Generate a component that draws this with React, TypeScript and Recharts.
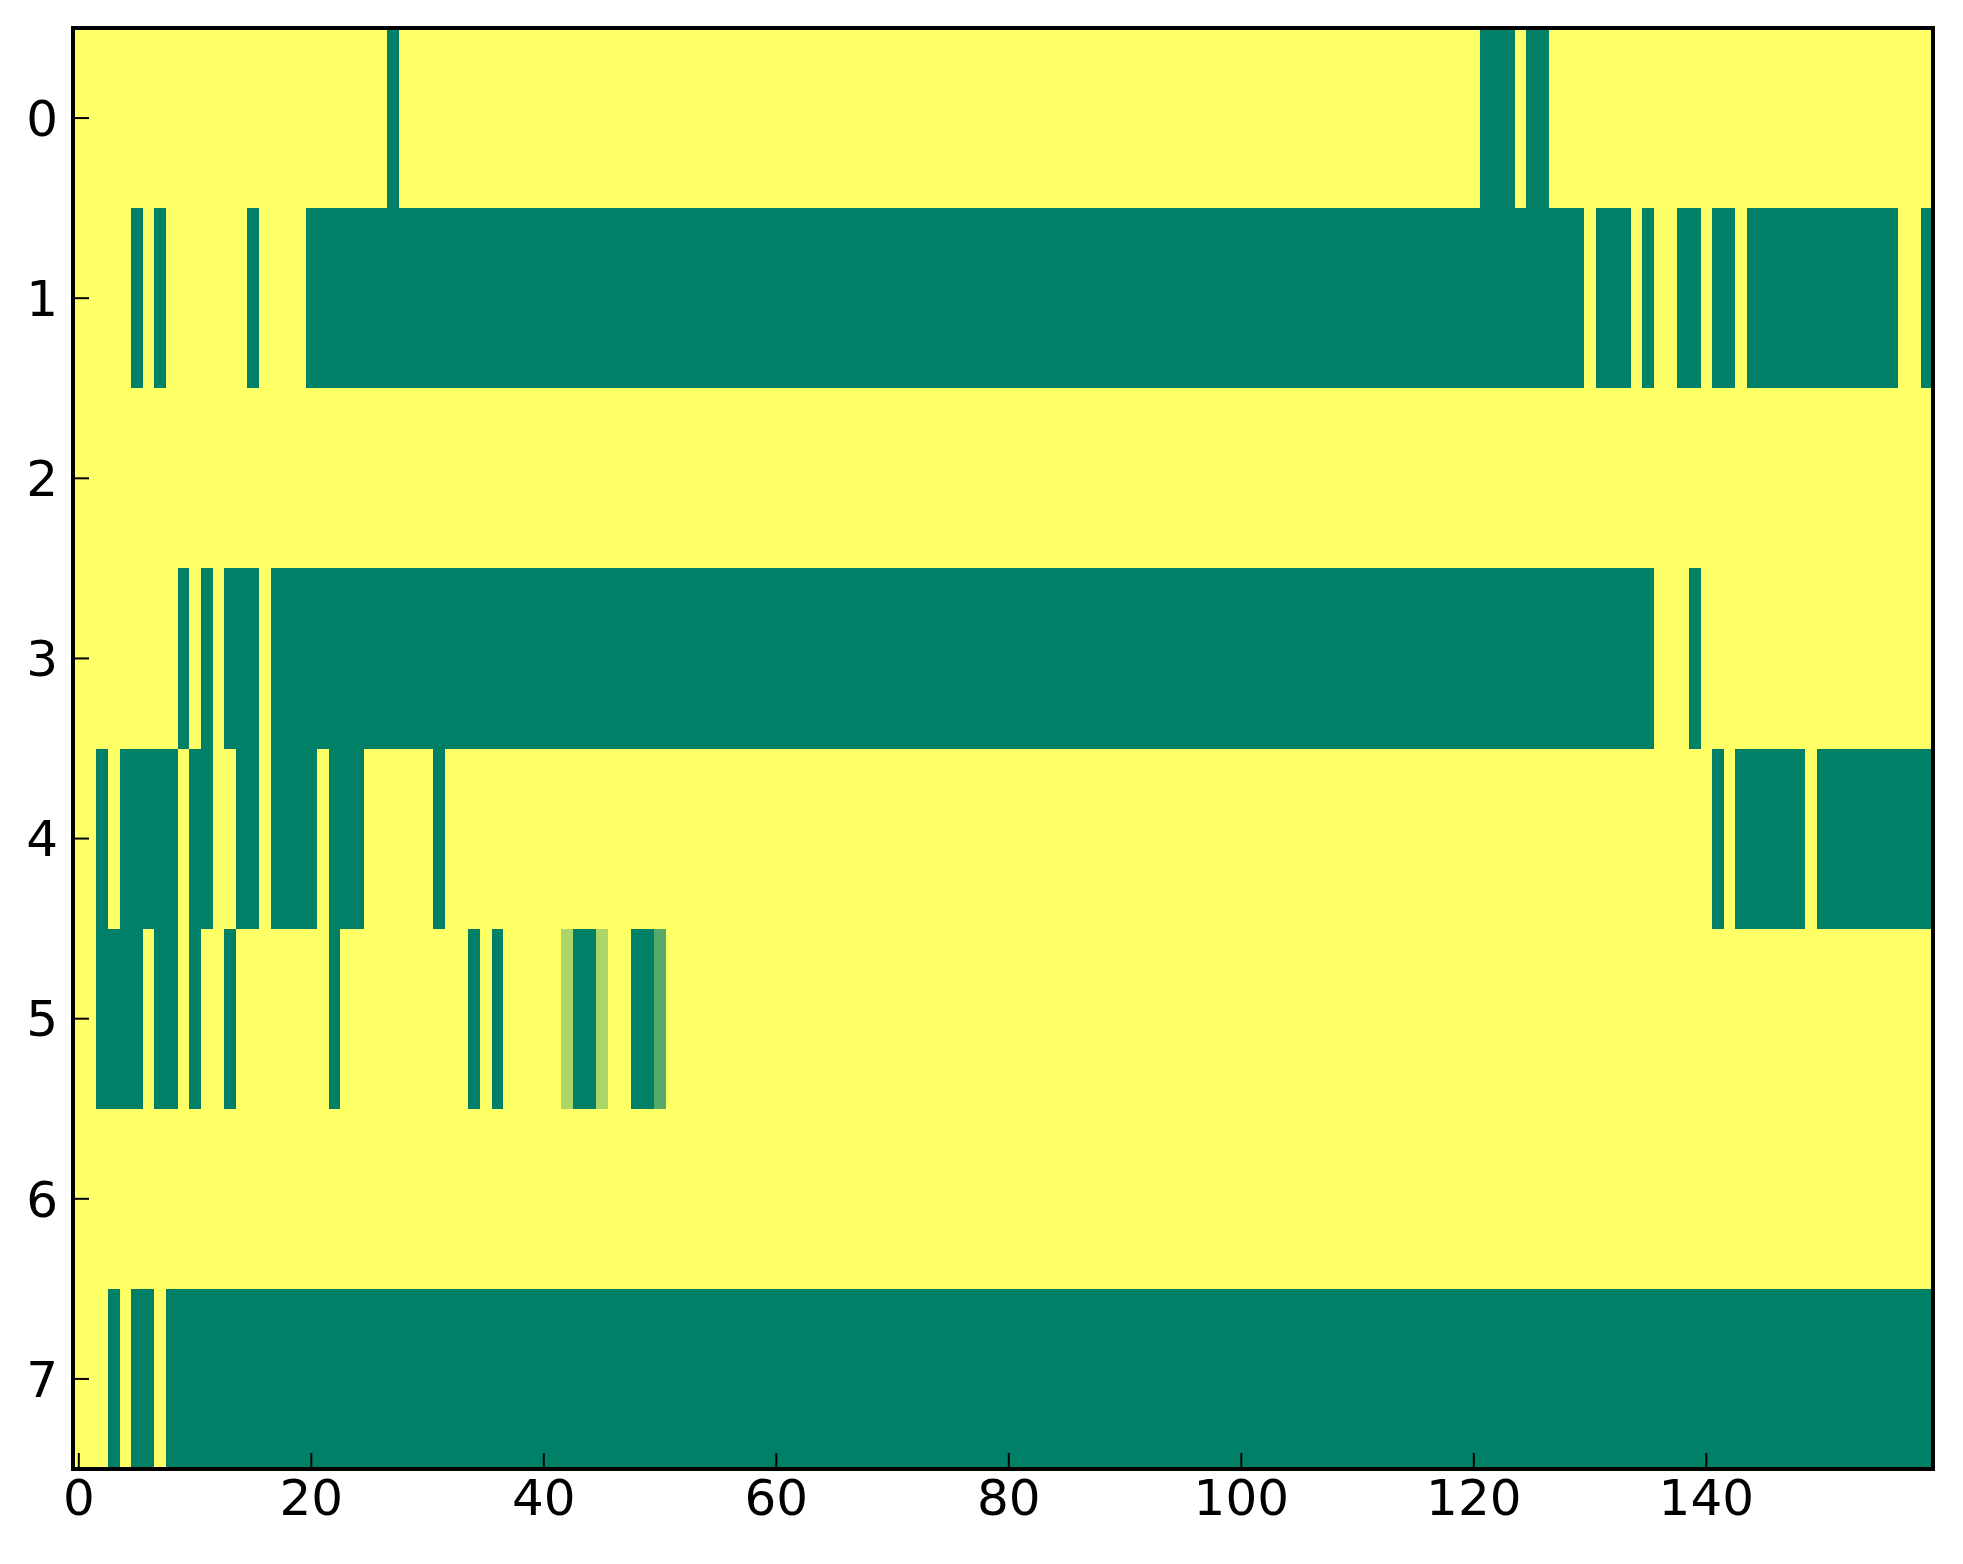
import { ScatterChart, Scatter, XAxis, YAxis } from "recharts";

type Span = [number, number, number];

const rowLabels = [0, 1, 2, 3, 4, 5, 6, 7];
const columnCount = 160;
const xTicks = [0, 20, 40, 60, 80, 100, 120, 140];

// cells below the top of the scale, per row: [first column, last column, value]
// every other cell sits at 1 (yellow)
const row0: Span[] = [[27, 27, 0], [121, 123, 0], [125, 126, 0]];
const row1: Span[] = [
  [5, 5, 0], [7, 7, 0], [15, 15, 0], [20, 129, 0], [131, 133, 0],
  [135, 135, 0], [138, 139, 0], [141, 142, 0], [144, 156, 0], [159, 159, 0],
];
const row2: Span[] = [];
const row3: Span[] = [[9, 9, 0], [11, 11, 0], [13, 15, 0], [17, 135, 0], [139, 139, 0]];
const row4: Span[] = [
  [2, 2, 0], [4, 8, 0], [10, 11, 0], [14, 15, 0], [17, 20, 0], [22, 24, 0],
  [31, 31, 0], [141, 141, 0], [143, 148, 0], [150, 159, 0],
];
const row5: Span[] = [
  [2, 5, 0], [7, 8, 0], [10, 10, 0], [13, 13, 0], [22, 22, 0], [34, 34, 0],
  [36, 36, 0], [42, 42, 0.67], [43, 44, 0], [45, 45, 0.67], [48, 49, 0], [50, 50, 0.33],
];
const row6: Span[] = [];
const row7: Span[] = [[3, 3, 0], [5, 6, 0], [8, 159, 0]];

const rows = [row0, row1, row2, row3, row4, row5, row6, row7];

const W = 1963;
const H = 1564;
const margin = { top: 27, right: 29, left: 0, bottom: 0 };
const Y_AXIS_W = 73;
const X_AXIS_H = 95;
const plotW = W - margin.left - margin.right - Y_AXIS_W - 1;
const plotH = H - margin.top - margin.bottom - X_AXIS_H - 1;
const cellW = plotW / columnCount;
const cellH = plotH / rowLabels.length;

// matplotlib "summer" colormap
const summer = (v: number) =>
  `rgb(${Math.round(255 * v)}, ${Math.round(255 * (0.5 + v / 2))}, 102)`;

// merge equal neighbours into runs so the image has no seams
const runs = rows.flatMap((spans, row) => {
  const values: number[] = new Array(columnCount).fill(1);
  spans.forEach(([a, b, v]) => {
    for (let c = a; c <= b; c++) values[c] = v;
  });
  const out: { x: number; y: number; len: number; value: number }[] = [];
  let start = 0;
  for (let c = 1; c <= columnCount; c++) {
    if (c === columnCount || values[c] !== values[start]) {
      out.push({ x: (start + c - 1) / 2, y: row, len: c - start, value: values[start] });
      start = c;
    }
  }
  return out;
});

const CellRect = (props: any) => {
  const { cx, cy, payload } = props;
  const w = payload.len * cellW;
  return (
    <rect
      x={cx - w / 2}
      y={cy - cellH / 2}
      width={w}
      height={cellH}
      fill={summer(payload.value)}
      shapeRendering="crispEdges"
    />
  );
};

const font = { fill: "#000", fontSize: 50, fontFamily: "DejaVu Sans" };
const axisLine = { stroke: "#000", strokeWidth: 4, strokeLinecap: "square" as const };
const tickLine = { stroke: "#000", strokeWidth: 2 };

export default function App() {
  return (
    <div style={{ position: "absolute", left: 0, top: 0, width: W, height: H, background: "#fff" }}>
      <ScatterChart width={W} height={H} margin={margin}>
        <Scatter
          data={runs}
          xAxisId="bottom"
          yAxisId="left"
          shape={CellRect}
          zIndex={100}
          isAnimationActive={false}
        />
        <XAxis
          xAxisId="bottom"
          type="number"
          dataKey="x"
          domain={[-0.5, 159.5]}
          ticks={xTicks}
          interval={0}
          height={X_AXIS_H}
          tickSize={-16}
          tickMargin={26}
          tick={font}
          axisLine={axisLine}
          tickLine={tickLine}
          zIndex={700}
        />
        <XAxis
          xAxisId="top"
          orientation="top"
          type="number"
          domain={[-0.5, 159.5]}
          ticks={xTicks}
          interval={0}
          height={1}
          tickSize={-16}
          tick={false}
          axisLine={axisLine}
          tickLine={tickLine}
          zIndex={700}
        />
        <YAxis
          yAxisId="left"
          type="number"
          dataKey="y"
          domain={[-0.5, 7.5]}
          reversed
          ticks={rowLabels}
          interval={0}
          width={Y_AXIS_W}
          tickSize={-16}
          tickMargin={31}
          tick={font}
          axisLine={axisLine}
          tickLine={tickLine}
          zIndex={700}
        />
        <YAxis
          yAxisId="right"
          orientation="right"
          type="number"
          domain={[-0.5, 7.5]}
          reversed
          ticks={rowLabels}
          interval={0}
          width={1}
          tickSize={-16}
          tick={false}
          axisLine={axisLine}
          tickLine={tickLine}
          zIndex={700}
        />
      </ScatterChart>
    </div>
  );
}
